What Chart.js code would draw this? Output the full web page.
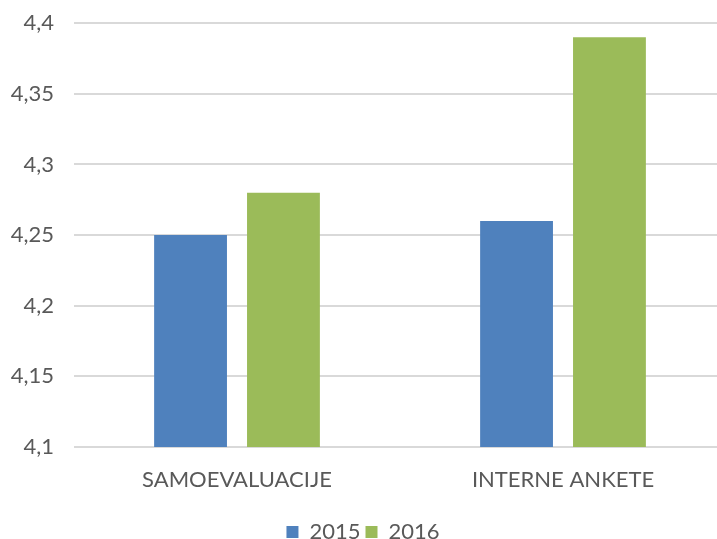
<!DOCTYPE html>
<html>
<head>
<meta charset="utf-8">
<script src="https://cdn.jsdelivr.net/npm/chart.js@4"></script>
<style>
  html, body { margin: 0; padding: 0; background: #fff; overflow: hidden; }
  .wrap { width: 726px; height: 563px; margin-top: -10px; }
</style>
</head>
<body>
<div class="wrap"><canvas id="grafica"></canvas></div>
<script>
const kategorije = ["SAMOEVALUACIJE", "INTERNE ANKETE"];
const godine = ["2015", "2016"];
const vrijednosti2015 = [4.25, 4.26];
const vrijednosti2016 = [4.28, 4.39];
const osY = { min: 4.1, max: 4.4, korak: 0.05 };

const tekstBoja = "#595959";
const font = "Lato, 'Open Sans', sans-serif";

const grafico = document.getElementById("grafica");
new Chart(grafico, {
  type: "bar",
  data: {
    labels: kategorije,
    datasets: [
      { label: godine[0], data: vrijednosti2015, backgroundColor: "#4f81bd" },
      { label: godine[1], data: vrijednosti2016, backgroundColor: "#9bbb59" }
    ]
  },
  options: {
    responsive: true,
    maintainAspectRatio: false,
    animation: false,
    categoryPercentage: 0.57,
    barPercentage: 0.784,
    layout: { padding: { top: 13, right: 0, left: 0, bottom: 0 } },
    plugins: {
      tooltip: { enabled: false },
      legend: {
        position: "bottom",
        labels: {
          boxWidth: 12,
          boxHeight: 12,
          padding: 5,
          color: tekstBoja,
          font: { family: font, size: 22 }
        }
      }
    },
    scales: {
      x: {
        grid: { display: false },
        border: { display: false },
        ticks: { color: tekstBoja, font: { family: font, size: 22 }, padding: 12 },
        afterFit: function (scale) { scale.height = 69; }
      },
      y: {
        min: osY.min,
        max: osY.max,
        grid: { color: "#d9d9d9", lineWidth: 2, drawTicks: false },
        border: { display: false },
        ticks: {
          stepSize: osY.korak,
          color: tekstBoja,
          font: { family: font, size: 22 },
          padding: 20,
          callback: (v) => String(Math.round(v * 100) / 100).replace(".", ",")
        },
        afterFit: function (scale) { scale.width = 74; }
      }
    }
  }
});
</script>
</body>
</html>
